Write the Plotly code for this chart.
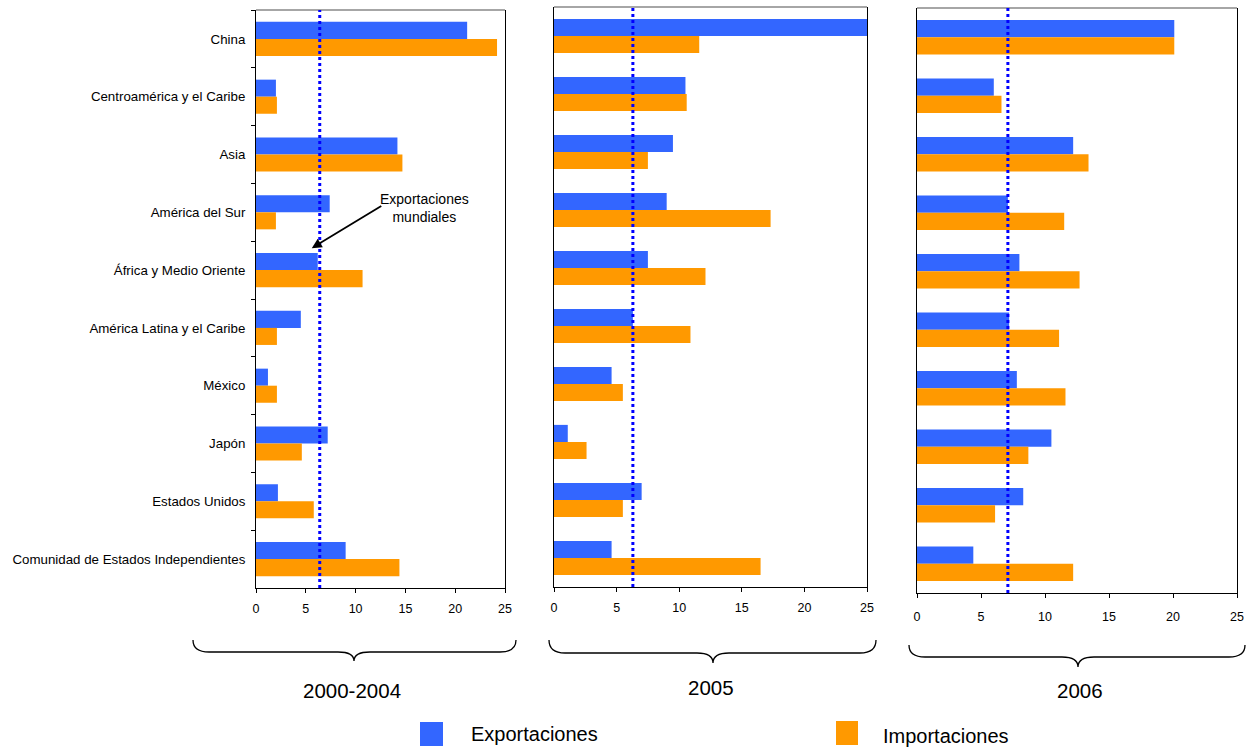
import plotly.graph_objects as go

W, H = 1248, 747

categorias = ["China", "Centroamérica y el Caribe", "Asia", "América del Sur",
              "África y Medio Oriente", "América Latina y el Caribe", "México",
              "Japón", "Estados Unidos", "Comunidad de Estados Independientes"]

periodos = ["2000-2004", "2005", "2006"]

export_2000_2004 = [21.2, 2.0, 14.2, 7.4, 6.2, 4.5, 1.2, 7.2, 2.2, 9.0]
import_2000_2004 = [24.2, 2.1, 14.7, 2.0, 10.7, 2.1, 2.1, 4.6, 5.8, 14.4]

export_2005 = [25.3, 10.5, 9.5, 9.0, 7.5, 6.3, 4.6, 1.1, 7.0, 4.6]
import_2005 = [11.6, 10.6, 7.5, 17.3, 12.1, 10.9, 5.5, 2.6, 5.5, 16.5]

export_2006 = [20.1, 6.0, 12.2, 7.1, 8.0, 7.2, 7.8, 10.5, 8.3, 4.4]
import_2006 = [20.1, 6.6, 13.4, 11.5, 12.7, 11.1, 11.6, 8.7, 6.1, 12.2]

export_mundial = [6.4, 6.3, 7.1]

x_ticks = [0, 5, 10, 15, 20, 25]

BLUE = "#3366FF"
ORANGE = "#FF9900"
FONT = "Liberation Sans, Arial, sans-serif"

def px(x):
    return x / W

def py(y):
    return 1 - y / H

# panel pixel boxes: (left, right, top, bottom)
boxes = [(256, 505, 10, 588), (554, 867, 7, 587), (917, 1237, 8, 593)]

exports = [export_2000_2004, export_2005, export_2006]
imports = [import_2000_2004, import_2005, import_2006]

fig = go.Figure()
layout = dict(
    autosize=True, margin=dict(l=0, r=0, t=0, b=0, autoexpand=False),
    paper_bgcolor="white", plot_bgcolor="white",
    barmode="group", bargap=0.41, bargroupgap=0,
    showlegend=False,
    font=dict(family=FONT, color="black", size=12),
)
shapes = []
annotations = []

for i in range(3):
    sfx = "" if i == 0 else str(i + 1)
    xa, ya = "x" + sfx, "y" + sfx
    l, r, t, b = boxes[i]
    fig.add_trace(go.Bar(y=categorias, x=exports[i], orientation="h", name="Exportaciones",
                         marker=dict(color=BLUE, line=dict(width=0)), xaxis=xa, yaxis=ya))
    fig.add_trace(go.Bar(y=categorias, x=imports[i], orientation="h", name="Importaciones",
                         marker=dict(color=ORANGE, line=dict(width=0)), xaxis=xa, yaxis=ya))
    layout["xaxis" + sfx] = dict(
        domain=[px(l), px(r)], anchor=ya, range=[0, 25], tickvals=x_ticks,
        showgrid=False, zeroline=False, showline=True, linecolor="black", linewidth=1,
        ticks="outside", ticklen=4, tickcolor="black", tickfont=dict(size=12.5, family=FONT),
        ticklabelstandoff=5 if i < 2 else 8, fixedrange=True,
    )
    yax = dict(
        domain=[py(b), py(t)], anchor=xa, type="category",
        categoryorder="array", categoryarray=categorias, autorange="reversed",
        showgrid=False, zeroline=False, showline=True, linecolor="black", linewidth=1,
        mirror=True, fixedrange=True,
    )
    if i == 0:
        yax.update(ticks="outside", ticklen=4, tickcolor="black", tickson="boundaries",
                   tickfont=dict(size=13.3, family=FONT), showticklabels=True,
                   ticklabelstandoff=7)
    else:
        yax.update(ticks="", showticklabels=False)
    layout["yaxis" + sfx] = yax
    # top frame line (gray)
    shapes.append(dict(type="line", xref="paper", yref="paper", x0=px(l), x1=px(r),
                       y0=py(t), y1=py(t), line=dict(color="#888888", width=1.5)))
    # world exports dotted line
    shapes.append(dict(type="line", xref=xa, yref=ya + " domain", x0=export_mundial[i],
                       x1=export_mundial[i], y0=0, y1=1,
                       line=dict(color="#0000FF", width=3, dash="dot")))

# braces
def brace(x0, x1, xc, y0, y1, y2):
    q = 16
    pts = (f"M {px(x0)},{py(y0)} Q {px(x0)},{py(y1)} {px(x0+q)},{py(y1)} "
           f"L {px(xc-q)},{py(y1)} Q {px(xc)},{py(y1)} {px(xc)},{py(y2)} "
           f"Q {px(xc)},{py(y1)} {px(xc+q)},{py(y1)} "
           f"L {px(x1-q)},{py(y1)} Q {px(x1)},{py(y1)} {px(x1)},{py(y0)}")
    return dict(type="path", xref="paper", yref="paper", path=pts,
                line=dict(color="black", width=1.3))

shapes.append(brace(193, 516, 354, 640, 652, 661))
shapes.append(brace(549, 876, 713, 640, 653, 663))
shapes.append(brace(909, 1245, 1078, 645, 657, 667))

label_pos = [(352, 690), (711, 687), (1080, 690)]
for name, (lx, ly) in zip(periodos, label_pos):
    annotations.append(dict(text=name, x=px(lx), y=py(ly), xref="paper", yref="paper",
                            showarrow=False, xanchor="center", yanchor="middle",
                            font=dict(size=20.5, family=FONT, color="black")))

# legend (manual)
shapes.append(dict(type="rect", xref="paper", yref="paper", x0=px(420), x1=px(443),
                   y0=py(746), y1=py(722), fillcolor=BLUE, line=dict(width=0)))
shapes.append(dict(type="rect", xref="paper", yref="paper", x0=px(836), x1=px(858),
                   y0=py(745), y1=py(721), fillcolor=ORANGE, line=dict(width=0)))
annotations.append(dict(text="Exportaciones", x=px(469), y=py(734), xref="paper", yref="paper",
                        showarrow=False, xanchor="left", yanchor="middle",
                        font=dict(size=20, family=FONT, color="black")))
annotations.append(dict(text="Importaciones", x=px(881), y=py(736), xref="paper", yref="paper",
                        showarrow=False, xanchor="left", yanchor="middle",
                        font=dict(size=20, family=FONT, color="black")))

# annotation "Exportaciones mundiales"
annotations.append(dict(text="Exportaciones<br>mundiales", x=px(424), y=py(208),
                        xref="paper", yref="paper", showarrow=False, align="center",
                        xanchor="center", yanchor="middle",
                        font=dict(size=14, family=FONT, color="black")))
annotations.append(dict(text="", x=5.6, y=3.62, xref="x", yref="y", showarrow=True,
                        ax=71, ay=-43, arrowhead=2, arrowsize=1.1, arrowwidth=1.8,
                        arrowcolor="black"))

layout["shapes"] = shapes
layout["annotations"] = annotations
fig.update_layout(**layout)

fig.write_html("out.html")
